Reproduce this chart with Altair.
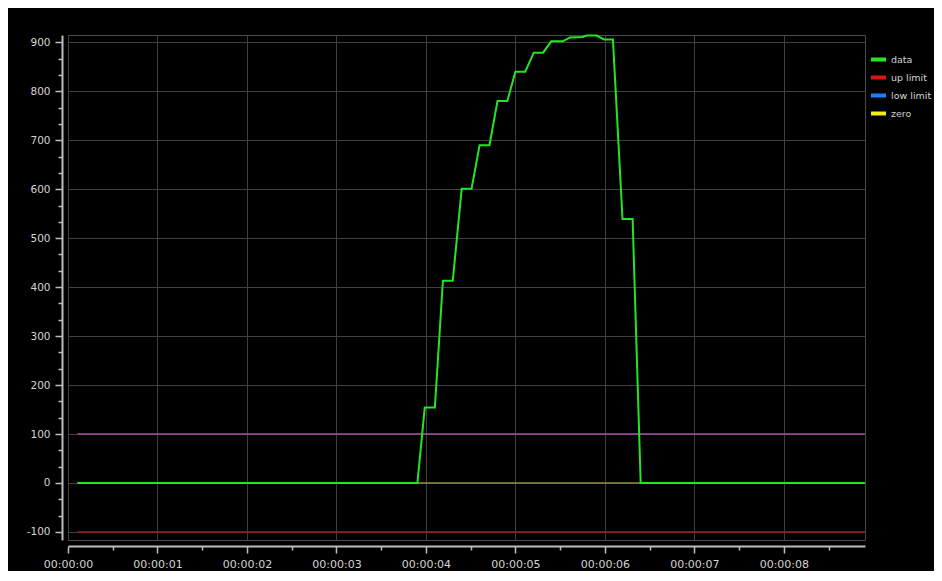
import altair as alt
import pandas as pd

# ---- data ----
data_t = [0.107, 3.905, 3.987, 4.10, 4.19, 4.30, 4.40, 4.51, 4.60, 4.71, 4.80, 4.91,
          5.00, 5.11, 5.205, 5.31, 5.40, 5.53, 5.61, 5.75, 5.795, 5.906, 5.99, 6.09,
          6.197, 6.31, 6.40, 8.905]
data_v = [0, 0, 154, 154, 413, 413, 601, 601, 690, 690, 780, 780,
          840, 840, 879, 879, 902, 902, 910, 911, 914, 914, 906, 906,
          539, 539, 0, 0]

limit_names = ["up limit", "low limit", "zero"]
limit_values = [100, -100, 0]
limit_t_start = 0.107
limit_t_end = 8.905

legend_names = ["data", "up limit", "low limit", "zero"]

x_major = [0, 1, 2, 3, 4, 5, 6, 7, 8]
x_minor = [0.5, 1.5, 2.5, 3.5, 4.5, 5.5, 6.5, 7.5, 8.5]
y_major = [-100, 0, 100, 200, 300, 400, 500, 600, 700, 800, 900]

# ---- tables ----
df_data = pd.DataFrame({"t": data_t, "v": data_v, "series": "data"})
rows = []
for n, v in zip(limit_names, limit_values):
    rows.append({"t": limit_t_start, "v": v, "series": n})
    rows.append({"t": limit_t_end, "v": v, "series": n})
df_lim = pd.DataFrame(rows)

y_minor = []
for m in y_major[:-1]:
    y_minor.append(round(m + 100 / 3, 4))
    y_minor.append(round(m + 200 / 3, 4))
y_vals = sorted(y_major + y_minor)
x_vals = sorted(x_major + x_minor)

FONT = "DejaVu Sans"
LABEL = "#d4d4d4"
DOMAIN = "#bdbdbd"
GRID = "#404040"

x_axis = alt.Axis(
    values=x_vals,
    labelExpr="datum.value % 1 === 0 ? '00:00:0' + datum.value : ''",
    tickSize={"condition": {"test": "datum.value % 1 !== 0", "value": 4}, "value": 7},
    gridOpacity={"condition": {"test": "datum.value % 1 !== 0", "value": 0}, "value": 1},
    grid=True, gridColor=GRID, gridWidth=1,
    offset=6, domainColor=DOMAIN, domainWidth=2,
    tickColor=DOMAIN, tickWidth=1.5,
    labelColor=LABEL, labelFont=FONT, labelFontSize=11, labelPadding=5,
    labelFlush=False, labelOverlap=False, title=None,
)
y_axis = alt.Axis(
    values=y_vals,
    labelExpr="abs(datum.value % 100) > 1 ? '' : '' + datum.value",
    tickSize={"condition": {"test": "abs(datum.value % 100) > 1", "value": 4}, "value": 7},
    gridOpacity={"condition": {"test": "abs(datum.value % 100) > 1", "value": 0}, "value": 1},
    grid=True, gridColor=GRID, gridWidth=1,
    offset=6, domainColor=DOMAIN, domainWidth=2,
    tickColor=DOMAIN, tickWidth=1.5,
    labelColor=LABEL, labelFont=FONT, labelFontSize=10.5, labelPadding=5,
    labelFlush=False, labelOverlap=False, title=None,
)

xs = alt.Scale(domain=[0, 8.907], nice=False, zero=False)
ys = alt.Scale(domain=[-116.5, 915], nice=False, zero=False)

limits = alt.Chart(df_lim).mark_line(strokeWidth=1.5).encode(
    x=alt.X("t:Q", scale=xs, axis=x_axis),
    y=alt.Y("v:Q", scale=ys, axis=y_axis),
    stroke=alt.Stroke("series:N",
                      scale=alt.Scale(domain=limit_names,
                                      range=["#9e52a0", "#a31d1d", "#8c8c44"]),
                      legend=None),
)

line = alt.Chart(df_data).mark_line(strokeWidth=2).encode(
    x=alt.X("t:Q", scale=xs, axis=x_axis),
    y=alt.Y("v:Q", scale=ys, axis=y_axis),
    color=alt.Color(
        "series:N",
        scale=alt.Scale(domain=legend_names,
                        range=["#22e622", "#e01414", "#1a80ff", "#f0f014"]),
        legend=alt.Legend(
            title=None, orient="none", legendX=801, legendY=15,
            symbolType="stroke", symbolSize=225, symbolStrokeWidth=4,
            labelColor=LABEL, labelFont=FONT, labelFontSize=9.5,
            rowPadding=0, labelOffset=3, padding=0, labelLimit=200,
        ),
    ),
)

chart = alt.layer(limits, line).properties(
    width=797, height=505,
    autosize=alt.AutoSizeParams(type="none"),
    padding={"left": 60, "top": 27, "right": 69, "bottom": 31},
).configure(background="black").configure_view(
    fill="black", stroke="#4a4a4a", strokeWidth=1
)

chart.save("out.html", embed_options={"renderer": "svg", "actions": False})
